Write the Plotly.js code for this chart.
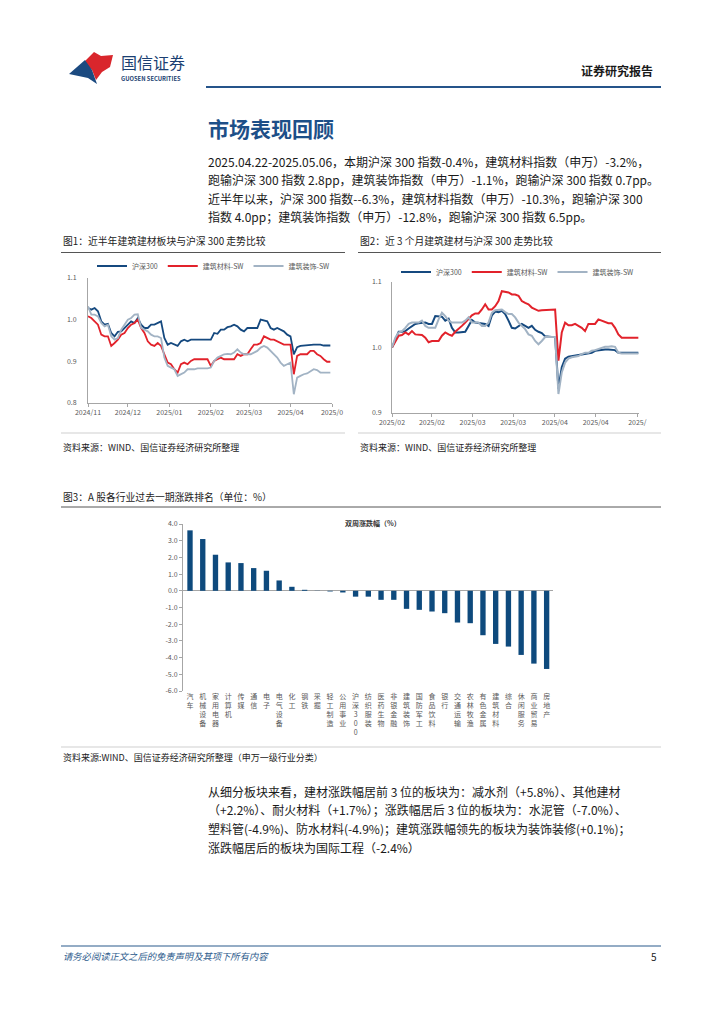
<!DOCTYPE html>
<html><head><meta charset="utf-8">
<script src="https://cdn.plot.ly/plotly-3.0.1.min.js"></script>
<style>html,body{margin:0;padding:0;background:#fff}#c{width:724px;height:1024px}</style>
</head><body><div id="c"></div>
<script>
const W=724,H=1024;
const px=x=>x/W, py=y=>1-y/H;
const FONT='Noto Sans CJK SC, Noto Sans, sans-serif';

// ---------- Chart 1 : half-year comparison ----------
const seriesNames=['沪深300','建筑材料-SW','建筑装饰-SW'];
const c1TickPos=[0,12,24.5,37,48.5,61,73.5];
const c1TickText=['2024/11','2024/12','2025/01','2025/02','2025/03','2025/04','2025/0'];
const c1HS300=[1.028,1.024,1.028,1.020,0.996,0.988,0.990,0.968,0.960,0.971,
0.972,0.980,0.988,0.996,0.992,1.004,0.988,0.980,0.980,0.988,
0.988,0.992,0.996,0.956,0.940,0.944,0.940,0.937,0.948,0.952,
0.948,0.952,0.952,0.952,0.952,0.952,0.952,0.952,0.968,0.966,
0.976,0.976,0.982,0.984,0.988,0.984,0.976,0.972,0.980,0.980,
0.980,0.980,1.000,0.998,0.996,0.980,0.976,0.980,0.976,0.972,
0.964,0.960,0.917,0.934,0.937,0.938,0.939,0.940,0.940,0.940,
0.940,0.938,0.938,0.938];
const c1Mat=[1.008,1.004,0.996,0.988,0.964,0.960,0.960,0.937,0.944,0.952,
0.964,0.968,0.980,0.988,0.992,1.000,0.980,0.968,0.948,0.940,
0.937,0.944,0.937,0.917,0.897,0.893,0.881,0.873,0.893,0.897,
0.893,0.901,0.905,0.905,0.905,0.905,0.905,0.889,0.901,0.905,
0.909,0.905,0.905,0.905,0.905,0.917,0.913,0.917,0.917,0.929,
0.940,0.940,0.944,0.960,0.956,0.952,0.952,0.948,0.944,0.940,
0.940,0.940,0.869,0.913,0.917,0.917,0.917,0.925,0.925,0.917,
0.913,0.905,0.899,0.899];
const c1Dec=[1.032,1.012,1.012,1.008,0.992,0.984,0.988,0.960,0.952,0.956,
0.976,0.988,1.000,1.004,1.012,1.013,0.980,0.976,0.972,0.964,
0.960,0.960,0.956,0.909,0.889,0.885,0.881,0.865,0.869,0.873,
0.881,0.881,0.881,0.883,0.883,0.883,0.883,0.885,0.901,0.909,
0.913,0.917,0.918,0.917,0.921,0.929,0.921,0.917,0.917,0.917,
0.921,0.925,0.933,0.937,0.933,0.925,0.917,0.909,0.897,0.889,
0.893,0.897,0.821,0.861,0.865,0.869,0.871,0.877,0.881,0.879,
0.873,0.873,0.873,0.873];
const c1YTicks=[0.8,0.9,1.0,1.1];
const c1YText=['0.8','0.9','1.0','1.1'];

// ---------- Chart 2 : 3-month comparison ----------
const c2TickPos=[0,12,24.2,36.4,48.9,61.2,73.7];
const c2TickText=['2025/02','2025/02','2025/03','2025/03','2025/04','2025/04','2025/'];
const c2HS300=[1.000,1.013,1.024,1.024,1.025,1.029,1.033,1.036,1.037,1.037,
1.038,1.036,1.036,1.048,1.048,1.047,1.041,1.044,1.030,1.023,
1.023,1.023,1.024,1.033,1.042,1.038,1.037,1.037,1.036,1.033,
1.049,1.055,1.054,1.056,1.051,1.041,1.030,1.029,1.032,1.036,
1.033,1.030,1.033,1.027,1.024,1.022,1.017,1.016,1.016,1.016,
0.937,0.970,0.983,0.986,0.987,0.987,0.989,0.990,0.991,0.992,
0.992,0.995,0.996,0.996,0.997,0.997,0.996,0.996,0.992,0.992,
0.992,0.992,0.992,0.992,0.992];
const c2Mat=[1.000,1.008,1.018,1.019,1.023,1.020,1.025,1.020,1.020,1.019,
1.015,1.008,1.010,1.010,1.010,1.018,1.023,1.020,1.018,1.024,
1.028,1.033,1.038,1.043,1.049,1.052,1.052,1.058,1.066,1.058,
1.058,1.063,1.071,1.086,1.085,1.084,1.081,1.081,1.079,1.071,
1.068,1.066,1.061,1.058,1.056,1.057,1.057,1.058,1.058,1.058,
0.980,1.023,1.038,1.034,1.034,1.036,1.033,1.030,1.025,1.036,
1.036,1.036,1.043,1.041,1.038,1.037,1.037,1.030,1.020,1.015,
1.015,1.015,1.015,1.015,1.015];
const c2Dec=[1.000,1.015,1.023,1.025,1.030,1.036,1.038,1.038,1.038,1.041,
1.033,1.030,1.030,1.030,1.043,1.053,1.048,1.041,1.038,1.038,
1.038,1.038,1.041,1.046,1.038,1.038,1.038,1.033,1.033,1.038,
1.053,1.057,1.058,1.058,1.054,1.051,1.051,1.046,1.038,1.033,
1.028,1.020,1.018,1.010,1.005,1.010,1.016,1.016,1.016,1.016,
0.929,0.962,0.977,0.983,0.985,0.986,0.987,0.990,0.992,0.992,
0.995,0.996,0.998,1.000,1.001,1.001,1.002,1.001,0.992,0.991,
0.991,0.991,0.991,0.991,0.991];
const c2YTicks=[0.9,1.0,1.1];
const c2YText=['0.9','1.0','1.1'];

// ---------- Chart 3 : industry ranking ----------
const industries=['汽车','机械设备','家用电器','计算机','传媒','通信','电子','电气设备','化工','钢铁','采掘','轻工制造','公用事业','沪深300','纺织服装','医药生物','非银金融','建筑装饰','国防军工','食品饮料','银行','交通运输','农林牧渔','有色金属','建筑材料','综合','休闲服务','商业贸易','房地产'];
const changes=[3.62,3.1,2.16,1.7,1.66,1.36,1.2,0.62,0.24,0.06,0.01,-0.04,-0.1,-0.35,-0.35,-0.54,-0.54,-1.08,-1.14,-1.24,-1.34,-1.9,-1.94,-2.66,-3.18,-3.34,-3.84,-4.36,-4.68];
const c3YTicks=[4,3,2,1,0,-1,-2,-3,-4,-5,-6];
const c3YText=['4.0','3.0','2.0','1.0','0.0','-1.0','-2.0','-3.0','-4.0','-5.0','-6.0'];

const colors=['#15497f','#e2222b','#a2b3c4'];
const idx=a=>a.map((_,i)=>i);

const traces=[];
[c1HS300,c1Mat,c1Dec].forEach((s,k)=>traces.push({x:idx(s),y:s,type:'scatter',mode:'lines',name:seriesNames[k],
  line:{color:colors[k],width:1.8},xaxis:'x',yaxis:'y',legend:'legend'}));
[c2HS300,c2Mat,c2Dec].forEach((s,k)=>traces.push({x:idx(s),y:s,type:'scatter',mode:'lines',name:seriesNames[k],
  line:{color:colors[k],width:2},xaxis:'x2',yaxis:'y2',legend:'legend2'}));
traces.push({x:industries,y:changes,type:'bar',marker:{color:'#0e4a7d'},width:0.42,xaxis:'x3',yaxis:'y3',showlegend:false});

const axC='#a6a6a6', tkC='#595959';
const baseAx={showgrid:false,zeroline:false,showline:true,linecolor:axC,linewidth:1,tickfont:{size:7,color:tkC,family:FONT},automargin:false,fixedrange:true};

const T=(x,y,text,size,o={})=>Object.assign({xref:'paper',yref:'paper',x:px(x),y:py(y),text,showarrow:false,
  xanchor:'left',yanchor:'middle',font:{size,color:o.color||'#1a1a1a',family:FONT}},o.extra||{});
const L=(x0,y0,x1,y1,color,w)=>({type:'line',xref:'paper',yref:'paper',x0:px(x0),y0:py(y0),x1:px(x1),y1:py(y1),line:{color,width:w}});
const P=(pts,color)=>({type:'path',xref:'paper',yref:'paper',fillcolor:color,line:{width:0},
  path:'M '+pts.map(p=>px(p[0])+','+py(p[1])).join(' L ')+' Z'});

const para1=['2025.04.22-2025.05.06，本期沪深 300 指数-0.4%，建筑材料指数（申万）-3.2%，',
'跑输沪深 300 指数 2.8pp，建筑装饰指数（申万）-1.1%，跑输沪深 300 指数 0.7pp。',
'近半年以来，沪深 300 指数--6.3%，建筑材料指数（申万）-10.3%，跑输沪深 300',
'指数 4.0pp；建筑装饰指数（申万）-12.8%，跑输沪深 300 指数 6.5pp。'];
const para2=['从细分板块来看，建材涨跌幅居前 3 位的板块为：减水剂（+5.8%）、其他建材',
'（+2.2%）、耐火材料（+1.7%）；涨跌幅居后 3 位的板块为：水泥管（-7.0%）、',
'塑料管(-4.9%)、防水材料(-4.9%)；建筑涨跌幅领先的板块为装饰装修(+0.1%)；',
'涨跌幅居后的板块为国际工程（-2.4%）'];

const ann=[
  T(119,62,'国信证券',16,{color:'#1b3f72'}),
  T(119,78.5,'<b>GUOSEN SECURITIES</b>',5.8,{color:'#1b3f72'}),
  T(655,70,'<b>证券研究报告</b>',12,{color:'#1a1a1a',extra:{xanchor:'right'}}),
  T(206,128,'<b>市场表现回顾</b>',21,{color:'#1d4f88'}),
  ...para1.map((t,i)=>T(206,161+i*18.6,t,12,{color:'#1a1a1a'})),
  T(61,241,'图1：近半年建筑建材板块与沪深 300 走势比较',9.8,{color:'#222'}),
  T(358,241,'图2：近 3 个月建筑建材与沪深 300 走势比较',9.8,{color:'#222'}),
  T(61,447,'资料来源：WIND、国信证券经济研究所整理',9,{color:'#222'}),
  T(358,447,'资料来源：WIND、国信证券经济研究所整理',9,{color:'#222'}),
  T(61,497,'图3：A 股各行业过去一期涨跌排名（单位：%）',9.8,{color:'#222'}),
  T(373,523,'<b>双周涨跌幅（%）</b>',7,{color:'#333',extra:{xanchor:'center'}}),
  T(61,757,'资料来源:WIND、国信证券经济研究所整理（申万一级行业分类）',9,{color:'#222'}),
  ...para2.map((t,i)=>T(206,791+i*18.8,t,12,{color:'#1a1a1a'})),
  T(61,956,'<i>请务必阅读正文之后的免责声明及其项下所有内容</i>',9.3,{color:'#2b5a8c'}),
  T(659,956,'5',10,{color:'#222',extra:{xanchor:'right'}})
];

const shapes=[
  P([[84,62],[94,52],[101,56],[113,55],[110,67],[102,72],[96,80],[92,70]],'#d9262c'),
  P([[69,74],[85,60],[92,70],[97,84],[88,78]],'#1b4a80'),
  L(206,87,661,87,'#25548a',2),
  L(61,252.5,345,252.5,'#555',1),
  L(358,252.5,661,252.5,'#555',1),
  L(61,433,345,433,'#cfcfcf',1),
  L(358,433,661,433,'#cfcfcf',1),
  L(61,507,661,507,'#555',1),
  L(61,747,661,747,'#cfcfcf',1),
  L(61,946,661,946,'#2b5a8c',1.2)
];

const legBase={orientation:'h',xanchor:'left',yanchor:'middle',font:{size:7,color:tkC,family:FONT},bgcolor:'rgba(0,0,0,0)',itemwidth:30,tracegroupgap:0};

const layout={
  width:W,height:H,margin:{l:0,r:0,t:0,b:0},paper_bgcolor:'#fff',plot_bgcolor:'rgba(0,0,0,0)',
  font:{family:FONT},showlegend:true,
  legend:Object.assign({x:px(92),y:py(266)},legBase),
  legend2:Object.assign({x:px(396),y:py(272)},legBase),
  xaxis:Object.assign({},baseAx,{domain:[px(88),px(332)],range:[0,73.5],anchor:'y',tickvals:c1TickPos,ticktext:c1TickText,ticks:'outside',ticklen:3,tickcolor:axC}),
  yaxis:Object.assign({},baseAx,{domain:[py(403),py(278)],range:[0.8,1.1],anchor:'x',tickvals:c1YTicks,ticktext:c1YText,ticks:'',ticklabelstandoff:9}),
  xaxis2:Object.assign({},baseAx,{domain:[px(392),px(639)],range:[0,74.2],anchor:'y2',tickvals:c2TickPos,ticktext:c2TickText,ticks:'outside',ticklen:3,tickcolor:axC}),
  yaxis2:Object.assign({},baseAx,{domain:[py(413),py(282)],range:[0.9,1.1],anchor:'x2',tickvals:c2YTicks,ticktext:c2YText,ticks:'',ticklabelstandoff:8}),
  xaxis3:Object.assign({},baseAx,{domain:[px(183),px(553)],type:'category',range:[-0.55,28.5],anchor:'y3',showline:false,ticks:'',
    tickvals:industries,ticktext:industries.map(s=>s.split('').join('<br>')),tickangle:0,tickfont:{size:7,color:tkC,family:FONT}}),
  yaxis3:Object.assign({},baseAx,{domain:[py(691),py(524)],range:[-6,4],anchor:'x3',tickvals:c3YTicks,ticktext:c3YText,ticks:'outside',ticklen:3,tickcolor:axC,
    zeroline:true,zerolinecolor:axC,zerolinewidth:1}),
  annotations:ann,shapes:shapes
};
Plotly.newPlot('c',traces,layout,{staticPlot:true,displayModeBar:false});
</script></body></html>
